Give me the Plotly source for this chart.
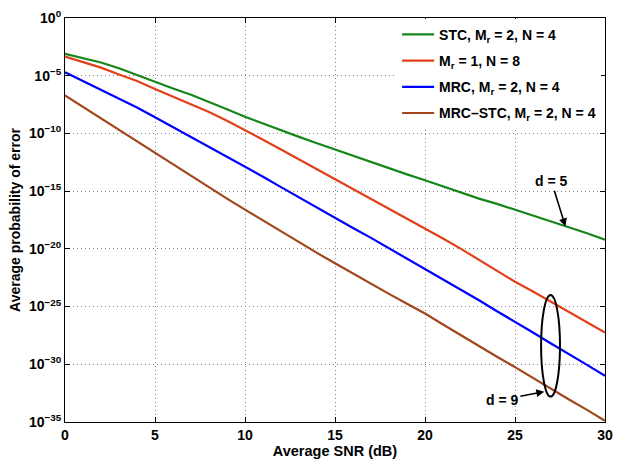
import plotly.graph_objects as go

snr_db = list(range(0, 31))

# log10 of average probability of error
stc_log = [-3.1, -3.45, -3.85, -4.35, -4.95, -5.55, -6.1, -6.65, -7.25, -7.9, -8.55,
           -9.15, -9.7, -10.3, -10.85, -11.4, -11.95, -12.5, -13.05, -13.55, -14.05,
           -14.6, -15.1, -15.65, -16.1, -16.6, -17.1, -17.6, -18.1, -18.65, -19.2]
m1_log = [-3.35, -3.8, -4.3, -4.9, -5.45, -6.15, -6.8, -7.45, -8.15, -8.9, -9.7,
          -10.55, -11.4, -12.25, -13.1, -13.95, -14.8, -15.65, -16.5, -17.35, -18.2,
          -19.1, -20.0, -20.95, -21.9, -22.85, -23.7, -24.6, -25.5, -26.35, -27.25]
mrc_log = [-4.7, -5.45, -6.2, -6.95, -7.75, -8.6, -9.45, -10.3, -11.15, -12.0, -12.87,
           -13.75, -14.65, -15.55, -16.45, -17.33, -18.2, -19.05, -19.95, -20.8, -21.7,
           -22.65, -23.55, -24.45, -25.4, -26.3, -27.25, -28.2, -29.1, -30.05, -31.0]
mrcstc_log = [-6.7, -7.7, -8.7, -9.7, -10.7, -11.7, -12.7, -13.7, -14.7, -15.65, -16.6,
              -17.55, -18.5, -19.45, -20.35, -21.25, -22.15, -23.05, -23.9, -24.75, -25.6,
              -26.55, -27.5, -28.4, -29.35, -30.25, -31.2, -32.1, -33.05, -33.95, -34.9]

series_names = ["STC, M<sub>r</sub> = 2, N = 4",
                "M<sub>r</sub> = 1, N = 8",
                "MRC, M<sub>r</sub> = 2, N = 4",
                "MRC\u2013STC, M<sub>r</sub> = 2, N = 4"]
series_colors = ["#16861A", "#E2401A", "#0000FF", "#A2461C"]
series_data = [stc_log, m1_log, mrc_log, mrcstc_log]

y_tick_exps = [0, -5, -10, -15, -20, -25, -30, -35]
y_tick_text = ["10<sup>%s</sup>" % (str(e).replace("-", "\u2212")) for e in y_tick_exps]
x_ticks = [0, 5, 10, 15, 20, 25, 30]

font_family = "Liberation Sans, Arial, sans-serif"

fig = go.Figure()
for i, (name, col, vals) in enumerate(zip(series_names, series_colors, series_data)):
    fig.add_trace(go.Scatter(
        x=snr_db, y=[10 ** v for v in vals], mode="lines", name=name,
        line=dict(color=col, width=2.2), legendgroup="g%d" % i))

# ellipse around curves at 27 dB
fig.add_shape(type="circle", xref="x", yref="y",
              x0=26.45, x1=27.5, y0=10 ** -32.8, y1=10 ** -24.0,
              line=dict(color="black", width=2))

fig.add_annotation(x=27.8, y=-18.05, xref="x", yref="y", text="d = 5",
                   showarrow=True, ax=-14, ay=-45, arrowhead=2, arrowsize=1,
                   arrowwidth=1.6, arrowcolor="black",
                   font=dict(family=font_family, size=14, color="black", weight="bold"))
fig.add_annotation(x=26.63, y=-32.37, xref="x", yref="y", text="d = 9",
                   showarrow=True, ax=-42, ay=8, arrowhead=2, arrowsize=1,
                   arrowwidth=1.6, arrowcolor="black",
                   font=dict(family=font_family, size=14, color="black", weight="bold"))

axis_common = dict(showline=True, linecolor="black", linewidth=1.2, mirror="ticks",
                   ticks="inside", ticklen=5, tickcolor="black",
                   showgrid=True, gridcolor="#8a8a8a", griddash="1px,3px", gridwidth=1,
                   zeroline=False)

fig.update_xaxes(range=[0, 30], tickvals=x_ticks,
                 title=dict(text="Average SNR (dB)", standoff=1,
                            font=dict(family=font_family, size=14.5, color="black", weight="bold")),
                 tickfont=dict(family=font_family, size=14, color="black", weight="bold"),
                 **axis_common)
fig.update_yaxes(type="log", range=[-35, 0], tickvals=[10 ** e for e in y_tick_exps],
                 ticktext=y_tick_text,
                 title=dict(text="Average probability of error", standoff=4,
                            font=dict(family=font_family, size=14, color="black", weight="bold")),
                 tickfont=dict(family=font_family, size=14, color="black", weight="bold"),
                 **axis_common)

fig.update_layout(
    width=621, height=462,
    margin=dict(l=65, r=8, t=17, b=38),
    paper_bgcolor="white", plot_bgcolor="white",
    font=dict(family=font_family, color="black"),
    showlegend=True,
    legend=dict(x=0.615, y=0.998, xanchor="left", yanchor="top",
                bgcolor="white", borderwidth=0, tracegroupgap=5,
                font=dict(family=font_family, size=14, color="black", weight="bold"),
                itemwidth=32),
)

fig.write_html("out.html")
